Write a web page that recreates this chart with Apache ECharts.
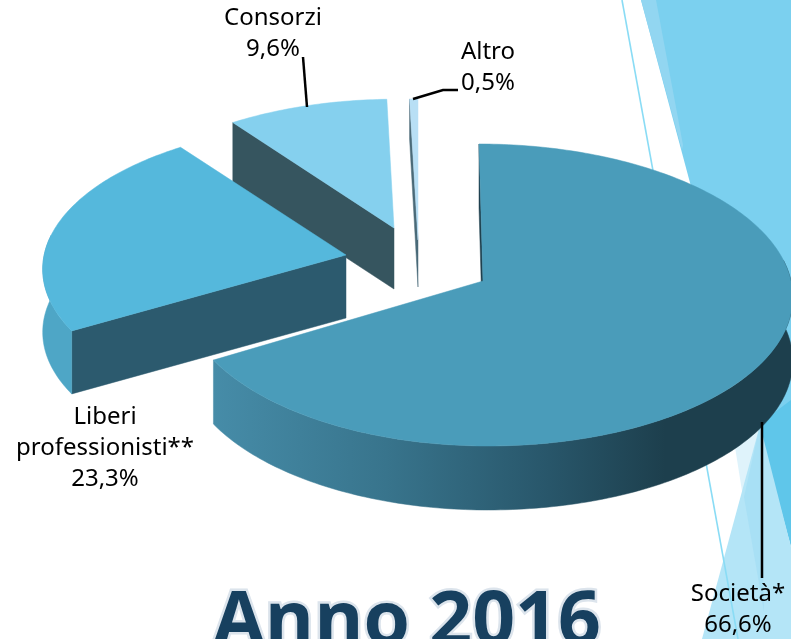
<!DOCTYPE html>
<html><head><meta charset="utf-8">
<style>html,body{margin:0;padding:0;background:#fff;overflow:hidden}#c{width:791px;height:639px}</style>
<script src="https://cdn.jsdelivr.net/npm/echarts@6/dist/echarts.min.js"></script>
</head><body><div id="c"></div>
<script>
const categories = ['Società*', 'Liberi\nprofessionisti**', 'Consorzi', 'Altro'];
const shares = [66.6, 23.3, 9.6, 0.5];
const shareLabels = ['66,6%', '23,3%', '9,6%', '0,5%'];
const drawOrder = [3, 2, 1, 0];

const FONT = '"Noto Sans"';
const RX = 308, RY = 149.7, K = 0.0927;

// Per-slice layout: exploded apex, scale, depth, colours, label and leader.
const sliceLayout = [
  {ax:483, ay:281, sx:1, sxL:0.974, sy:1, shear:0.029, depth:64, rimDepth:64, top:'#4A9CBA', wall:'#1F404E',
   outer:{grad:[[0,'#468CA8'],[0.3,'#38748C'],[0.58,'#28566A'],[0.78,'#1D3F4D'],[1,'#1D3F4D']]},
   lx:738, ly:594, leader:[[762,422],[762,578]]},
  {ax:346, ay:255, sx:0.98, sxL:0.98, sy:0.96, shear:-0.01, depth:63, rimDepth:63, top:'#55B8DC', wall:'#2C5A6E',
   outer:{color:'#4EA6C6'}, lx:105, ly:417, leader:null},
  {ax:394, ay:228, sx:0.955, sxL:0.955, sy:0.94, shear:-0.01, depth:61, rimDepth:61, top:'#85D0EE', wall:'#36555F',
   outer:{color:'#36555F'}, lx:273, ly:18, leader:[[303,57],[307,107]]},
  {ax:418, ay:240, sx:0.95, sxL:0.95, sy:1.03, shear:0, depth:47, rimDepth:40, top:'#B8DFF5', wall:'#4A6A78',
   outer:{color:'#4A6A78'}, lx:488, ly:52, leader:[[413,99],[443,90],[458,90]]}
];

function project(deg, l) {
  const t = deg * Math.PI / 180, u = Math.sin(t), v = -Math.cos(t);
  const d = 1 - K * v;
  const y = RY * v / d * l.sy;
  const x = RX * u / d * (u < 0 ? l.sxL : l.sx) + l.shear * y;
  return [l.ax + x, l.ay + y];
}
function arc(a0, a1, l) {
  const pts = [], n = Math.max(2, Math.ceil(a1 - a0));
  for (let i = 0; i <= n; i++) pts.push(project(a0 + (a1 - a0) * i / n, l));
  return pts;
}
const drop = (pts, d) => pts.map(p => [p[0], p[1] + d]);
const poly = (points, fill, stroke) => ({type:'polygon', shape:{points}, style:{fill, stroke:stroke||fill, lineWidth:0.5}});

function renderItem(params, api) {
  const idx = drawOrder[params.dataIndex];
  const value = api.value(0);
  const total = shares.reduce((a, b) => a + b, 0);
  let start = 0;
  for (let i = 0; i < idx; i++) start += shares[i] / total * 360;
  const end = start + value / total * 360;
  const l = sliceLayout[idx];
  const rim = arc(start, end, l);
  const apex = [l.ax, l.ay];
  const A = rim[0];
  const kids = [];
  // Radial wall at the slice's leading edge
  kids.push(poly([A, apex, [apex[0], apex[1] + l.depth], [A[0], A[1] + l.rimDepth]], l.wall));
  // Outer curved wall: only the part of the rim that faces the viewer
  const f0 = Math.max(start, 82), f1 = Math.min(end, 278);
  if (f1 > f0) {
    const front = arc(f0, f1, l);
    const outerFill = l.outer.grad
      ? new echarts.graphic.LinearGradient(0, 0, 1, 0, l.outer.grad.map(s => ({offset:s[0], color:s[1]})))
      : l.outer.color;
    kids.push(poly(front.concat(drop(front, l.rimDepth).reverse()), outerFill));
  }
  kids.push(poly([apex].concat(rim), l.top));
  if (l.leader) kids.push({type:'polyline', shape:{points:l.leader}, style:{stroke:'#000', lineWidth:2.5, fill:null}});
  kids.push({type:'text', style:{
    text: categories[idx] + '\n' + shareLabels[idx], x:l.lx, y:l.ly - 15,
    font:'24px ' + FONT, lineHeight:31, fill:'#000', align:'center', verticalAlign:'top'
  }});
  return {type:'group', children:kids};
}

const chart = echarts.init(document.getElementById('c'), null, {renderer:'canvas'});
chart.setOption({
  animation:false,
  backgroundColor:'#fff',
  graphic:[
    {type:'polygon', z:0, shape:{points:[[641,0],[791,0],[791,460],[760,420],[700,220]]}, style:{fill:'#7BD0EF'}},
    {type:'polygon', z:0, shape:{points:[[641,0],[656,0],[683,145],[682,150]]}, style:{fill:'#92D6F1'}},
    {type:'polygon', z:0, shape:{points:[[735,447],[760,425],[768,470],[745,510]]}, style:{fill:'#DFF3FB'}},
    {type:'polygon', z:0, shape:{points:[[758,425],[791,547],[791,400]]}, style:{fill:'#5FC6EA'}},
    {type:'polygon', z:0, shape:{points:[[760,425],[791,547],[791,639],[702,639]]}, style:{fill:'#B4E5F7'}},
    {type:'polygon', z:0, shape:{points:[[744,497],[760,425],[764,612]]}, style:{fill:'#A8E0F5'}},
    {type:'line', z:1, shape:{x1:622,y1:0,x2:738,y2:639}, style:{stroke:'#8ADCF5', lineWidth:1.6}},
    {type:'text', z:3, x:407, y:624, style:{
      text:'Anno 2016', font:'bold 75px "Open Sans"', fill:'#17405F', align:'center', verticalAlign:'middle',
      stroke:'#DCE4EC', lineWidth:5, shadowColor:'rgba(60,60,60,0.6)', shadowBlur:4, shadowOffsetX:1, shadowOffsetY:2
    }}
  ],
  series:[{
    type:'custom', coordinateSystem:'none', silent:true, clip:false,
    renderItem, data:drawOrder.map(i => ({name:categories[i], value:[shares[i]]}))
  }]
});
</script></body></html>
